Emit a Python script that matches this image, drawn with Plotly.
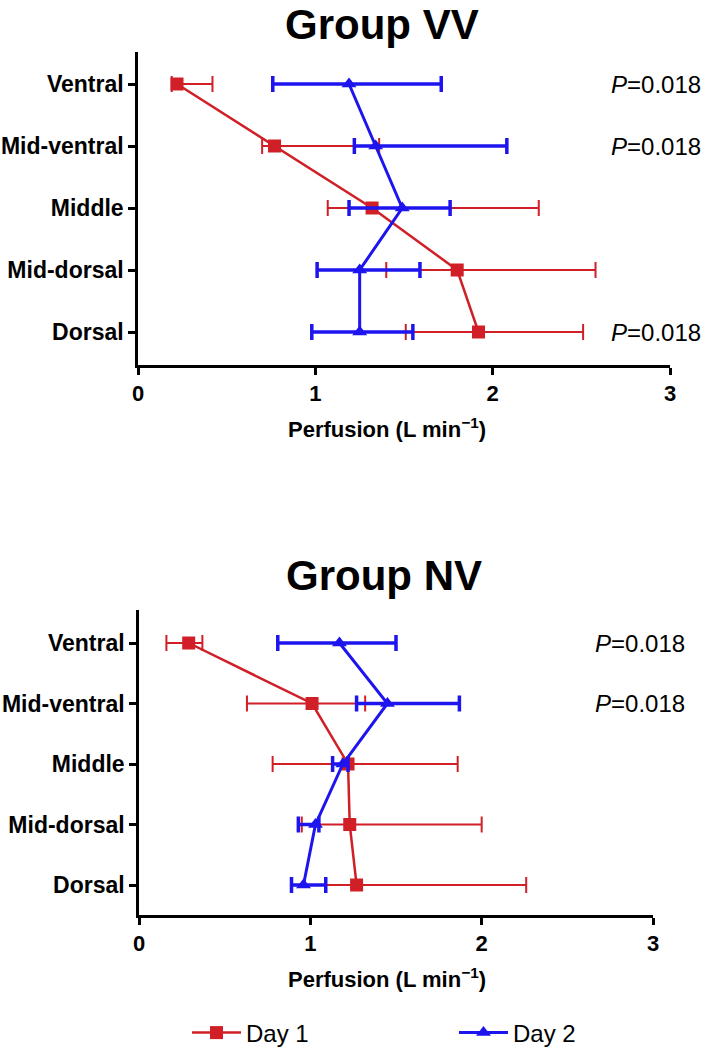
import plotly.graph_objects as go

# Data (median with lower/upper bounds)
categories = ["Ventral", "Mid-ventral", "Middle", "Mid-dorsal", "Dorsal"]

vv_day1 = [0.22, 0.77, 1.32, 1.80, 1.92]
vv_day1_lo = [0.19, 0.70, 1.07, 1.40, 1.51]
vv_day1_hi = [0.42, 1.36, 2.26, 2.58, 2.51]
vv_day2 = [1.19, 1.34, 1.49, 1.25, 1.25]
vv_day2_lo = [0.76, 1.22, 1.19, 1.01, 0.98]
vv_day2_hi = [1.71, 2.08, 1.76, 1.59, 1.55]

nv_day1 = [0.29, 1.01, 1.22, 1.23, 1.27]
nv_day1_lo = [0.16, 0.63, 0.78, 0.95, 1.09]
nv_day1_hi = [0.37, 1.32, 1.86, 2.00, 2.26]
nv_day2 = [1.17, 1.45, 1.19, 1.03, 0.96]
nv_day2_lo = [0.81, 1.27, 1.13, 0.93, 0.89]
nv_day2_hi = [1.50, 1.87, 1.22, 1.05, 1.09]

vv_pvals = {"Ventral": "0.018", "Mid-ventral": "0.018", "Dorsal": "0.018"}
nv_pvals = {"Ventral": "0.018", "Mid-ventral": "0.018"}

RED = "#D01F26"
BLUE = "#1E14EE"
FONT = "Arial, Liberation Sans, sans-serif"

W, H = 708, 1050


def px(x):
    return x / W


def py(y):
    return 1 - y / H


fig = go.Figure()


def add_series(mean, lo, hi, name, color, symbol, lw, ew, xa, ya, show):
    fig.add_trace(go.Scatter(
        x=mean, y=categories, name=name, mode="lines+markers",
        xaxis=xa, yaxis=ya, showlegend=show,
        line=dict(color=color, width=lw),
        marker=dict(color=color, symbol=symbol, size=13),
        error_x=dict(type="data", symmetric=False,
                     array=[h - m for h, m in zip(hi, mean)],
                     arrayminus=[m - l for m, l in zip(mean, lo)],
                     color=color, thickness=ew, width=8),
    ))


add_series(vv_day1, vv_day1_lo, vv_day1_hi, "Day 1", RED, "square", 2.5, 2, "x", "y", True)
add_series(vv_day2, vv_day2_lo, vv_day2_hi, "Day 2", BLUE, "triangle-up", 3, 3.5, "x", "y", True)
add_series(nv_day1, nv_day1_lo, nv_day1_hi, "Day 1", RED, "square", 2.5, 2, "x2", "y2", False)
add_series(nv_day2, nv_day2_lo, nv_day2_hi, "Day 2", BLUE, "triangle-up", 3, 3.5, "x2", "y2", False)

xaxis_style = dict(range=[0, 3], tickvals=[0, 1, 2, 3], showgrid=False, zeroline=False,
                   showline=True, linecolor="black", linewidth=2.5, automargin=False,
                   ticks="outside", ticklen=7, tickwidth=2.5, tickcolor="black",
                   tickfont=dict(family=FONT, size=22, color="black", weight="bold"))
yaxis_style = dict(type="category", categoryorder="array", categoryarray=categories,
                   showgrid=False, zeroline=False, showline=True, linecolor="black",
                   linewidth=2.5, ticks="outside", ticklen=7, tickwidth=2.5,
                   tickcolor="black", automargin=False,
                   tickfont=dict(family=FONT, size=23, color="black", weight="bold"))

# pixel layout of the two panels
top_y0, top_y1 = 52, 365
bot_y0, bot_y1 = 610, 915

fig.update_layout(
    width=W, height=H, autosize=False,
    margin=dict(l=0, r=0, t=0, b=0, autoexpand=False),
    plot_bgcolor="white", paper_bgcolor="white",
    font=dict(family=FONT, color="black"),
    xaxis=dict(domain=[px(138), px(670)], anchor="y", **xaxis_style),
    yaxis=dict(domain=[py(top_y1), py(top_y0)], anchor="x",
               range=[4 + (top_y1 - 332) / 62, -(84 - top_y0) / 62], **yaxis_style),
    xaxis2=dict(domain=[px(139), px(653)], anchor="y2", **xaxis_style),
    yaxis2=dict(domain=[py(bot_y1), py(bot_y0)], anchor="x2",
                range=[4 + (bot_y1 - 885) / 60.5, -(643 - bot_y0) / 60.5], **yaxis_style),
    legend=dict(orientation="h", x=px(187), y=py(1033), yanchor="middle", xanchor="left",
                entrywidth=203, entrywidthmode="pixels", itemwidth=49,
                font=dict(family=FONT, size=24, color="black")),
)

# panel titles and axis titles
for text, xp, yp, size in [
    ("<b>Group VV</b>", 382, 24, 42),
    ("<b>Group NV</b>", 384, 575, 42),
    ("<b>Perfusion (L min<sup>\u22121</sup>)</b>", 387, 428, 22),
    ("<b>Perfusion (L min<sup>\u22121</sup>)</b>", 387, 978, 22),
]:
    fig.add_annotation(x=px(xp), y=py(yp), xref="paper", yref="paper",
                       text=text, showarrow=False, xanchor="center", yanchor="middle",
                       font=dict(family=FONT, size=size, color="black"))

# P values
for cat, p in vv_pvals.items():
    fig.add_annotation(x=px(609), y=cat, xref="paper", yref="y", text=f"<i>P</i>={p}",
                       showarrow=False, xanchor="left", yanchor="middle",
                       font=dict(family=FONT, size=24, color="black"))
for cat, p in nv_pvals.items():
    fig.add_annotation(x=px(593), y=cat, xref="paper", yref="y2", text=f"<i>P</i>={p}",
                       showarrow=False, xanchor="left", yanchor="middle",
                       font=dict(family=FONT, size=24, color="black"))

# drop the default page margin so the figure sits at the window's corner
fig.write_html("out.html", config={"displayModeBar": False},
               post_script="document.body.style.margin = '0';")
